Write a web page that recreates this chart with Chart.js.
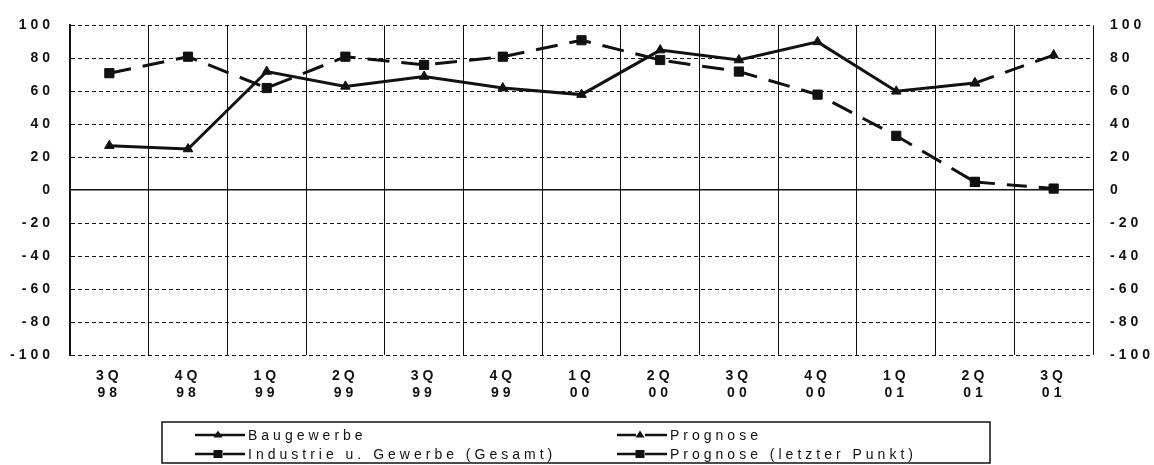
<!DOCTYPE html>
<html>
<head>
<meta charset="utf-8">
<script src="https://cdn.jsdelivr.net/npm/chart.js@4"></script>
<style>
  html, body { margin: 0; padding: 0; background: #fff; }
  #wrap { width: 1154px; height: 465px; }
</style>
</head>
<body>
<div id="wrap"><canvas id="chart" width="1154" height="465"></canvas></div>
<script>
const quarters = [
    ["3Q", "98"], ["4Q", "98"], ["1Q", "99"], ["2Q", "99"], ["3Q", "99"],
    ["4Q", "99"], ["1Q", "00"], ["2Q", "00"], ["3Q", "00"], ["4Q", "00"],
    ["1Q", "01"], ["2Q", "01"], ["3Q", "01"],
];

const baugewerbe = [27, 25, 72, 63, 69, 62, 58, 85, 79, 90, 60, 65, null];
const prognoseBau = [null, null, null, null, null, null, null, null, null, null, null, 65, 82];
const industrie = [71, 81, 62, 81, 76, 81, 91, 79, 72, 58, 33, 5, null];
const prognoseLetzter = [null, null, null, null, null, null, null, null, null, null, null, 5, 1];

const Y_MIN = -100;
const Y_MAX = 100;
const Y_STEP = 20;

const INK = "#111";
const TICK_FONT = { family: "'Liberation Sans', Arial, sans-serif", size: 14, weight: "bold" };

// letter spacing like the scanned original
const spacingPlugin = {
    id: "spacing",
    beforeDraw(chart) {
        chart.ctx.letterSpacing = "4px";
    },
};

// two-column boxed legend under the chart
const boxLegend = {
    id: "boxLegend",
    afterDraw(chart, args, opts) {
        const ctx = chart.ctx;
        ctx.save();
        ctx.strokeStyle = INK;
        ctx.lineWidth = 1.5;
        ctx.setLineDash([]);
        ctx.strokeRect(opts.left, opts.top, opts.right - opts.left, opts.bottom - opts.top);

        ctx.font = opts.font;
        ctx.letterSpacing = opts.spacing;
        ctx.fillStyle = INK;
        ctx.textBaseline = "middle";
        ctx.textAlign = "left";

        chart.data.datasets.forEach((ds) => {
            const x0 = opts.cols[ds.legendCol];
            const y = opts.rows[ds.legendRow];
            ctx.strokeStyle = INK;
            ctx.lineWidth = 2.5;
            ctx.setLineDash(ds.borderDash && ds.borderDash.length ? [19, 9, 22] : []);
            ctx.beginPath();
            ctx.moveTo(x0, y);
            ctx.lineTo(x0 + opts.sample, y);
            ctx.stroke();
            ctx.setLineDash([]);
            const mx = x0 + opts.sample / 2 - 2;
            ctx.beginPath();
            if (ds.pointStyle === "triangle") {
                ctx.moveTo(mx, y - 4.5);
                ctx.lineTo(mx + 4.5, y + 2.5);
                ctx.lineTo(mx - 4.5, y + 2.5);
            } else {
                ctx.rect(mx - 4.5, y - 4, 9, 8);
            }
            ctx.closePath();
            ctx.fill();
            ctx.fillText(ds.label, x0 + opts.sample + 3, y + 1);
        });
        ctx.restore();
    },
};

const ctx = document.getElementById("chart").getContext("2d");

new Chart(ctx, {
    type: "line",
    data: {
        labels: quarters,
        datasets: [
            {
                label: "Baugewerbe",
                data: baugewerbe,
                borderColor: INK,
                backgroundColor: INK,
                borderWidth: 3,
                pointStyle: "triangle",
                pointRadius: 5.5,
                pointBorderWidth: 1,
                legendCol: 0,
                legendRow: 0,
            },
            {
                label: "Prognose",
                data: prognoseBau,
                borderColor: INK,
                backgroundColor: INK,
                borderWidth: 3,
                borderDash: [20, 12],
                pointStyle: "triangle",
                pointRadius: 5.5,
                pointBorderWidth: 1,
                legendCol: 1,
                legendRow: 0,
            },
            {
                label: "Industrie u. Gewerbe (Gesamt)",
                data: industrie,
                borderColor: INK,
                backgroundColor: INK,
                borderWidth: 3,
                borderDash: [22, 12],
                pointStyle: "rect",
                pointRadius: 6.5,
                pointBorderWidth: 1,
                legendCol: 0,
                legendRow: 1,
            },
            {
                label: "Prognose (letzter Punkt)",
                data: prognoseLetzter,
                borderColor: INK,
                backgroundColor: INK,
                borderWidth: 3,
                borderDash: [20, 12],
                pointStyle: "rect",
                pointRadius: 6.5,
                pointBorderWidth: 1,
                legendCol: 1,
                legendRow: 1,
            },
        ],
    },
    options: {
        responsive: false,
        animation: false,
        devicePixelRatio: 1,
        layout: { padding: { top: 17, left: 0, right: 0, bottom: 0 } },
        plugins: {
            legend: { display: false },
            tooltip: { enabled: false },
            boxLegend: {
                left: 162,
                right: 990,
                top: 422,
                bottom: 463,
                cols: [195, 617],
                rows: [435, 454],
                sample: 50,
                font: "14px 'Liberation Sans', Arial, sans-serif",
                spacing: "4px",
            },
        },
        scales: {
            x: {
                offset: true,
                grid: {
                    offset: true,
                    color: INK,
                    lineWidth: 1,
                    drawTicks: false,
                },
                border: { display: false },
                ticks: {
                    color: INK,
                    font: { ...TICK_FONT, lineHeight: 1.22 },
                    padding: 13,
                    maxRotation: 0,
                    autoSkip: false,
                },
                afterFit(scale) {
                    scale.height = 110;
                },
            },
            y: {
                position: "left",
                min: Y_MIN,
                max: Y_MAX,
                ticks: {
                    stepSize: Y_STEP,
                    color: INK,
                    font: TICK_FONT,
                    padding: 16,
                },
                grid: {
                    color: INK,
                    lineWidth: (c) => (c.tick && c.tick.value === 0 ? 1.6 : 1),
                    drawTicks: false,
                },
                border: {
                    color: INK,
                    width: 2,
                    dash: (c) => (c.tick && c.tick.value === 0 ? [] : [4, 3]),
                },
                afterFit(scale) {
                    scale.width = 70;
                },
            },
            y2: {
                position: "right",
                min: Y_MIN,
                max: Y_MAX,
                ticks: {
                    stepSize: Y_STEP,
                    color: INK,
                    font: TICK_FONT,
                    padding: 17,
                },
                grid: { display: false, drawTicks: false },
                border: { display: false },
                afterFit(scale) {
                    scale.width = 61;
                },
            },
        },
    },
    plugins: [spacingPlugin, boxLegend],
});
</script>
</body>
</html>
